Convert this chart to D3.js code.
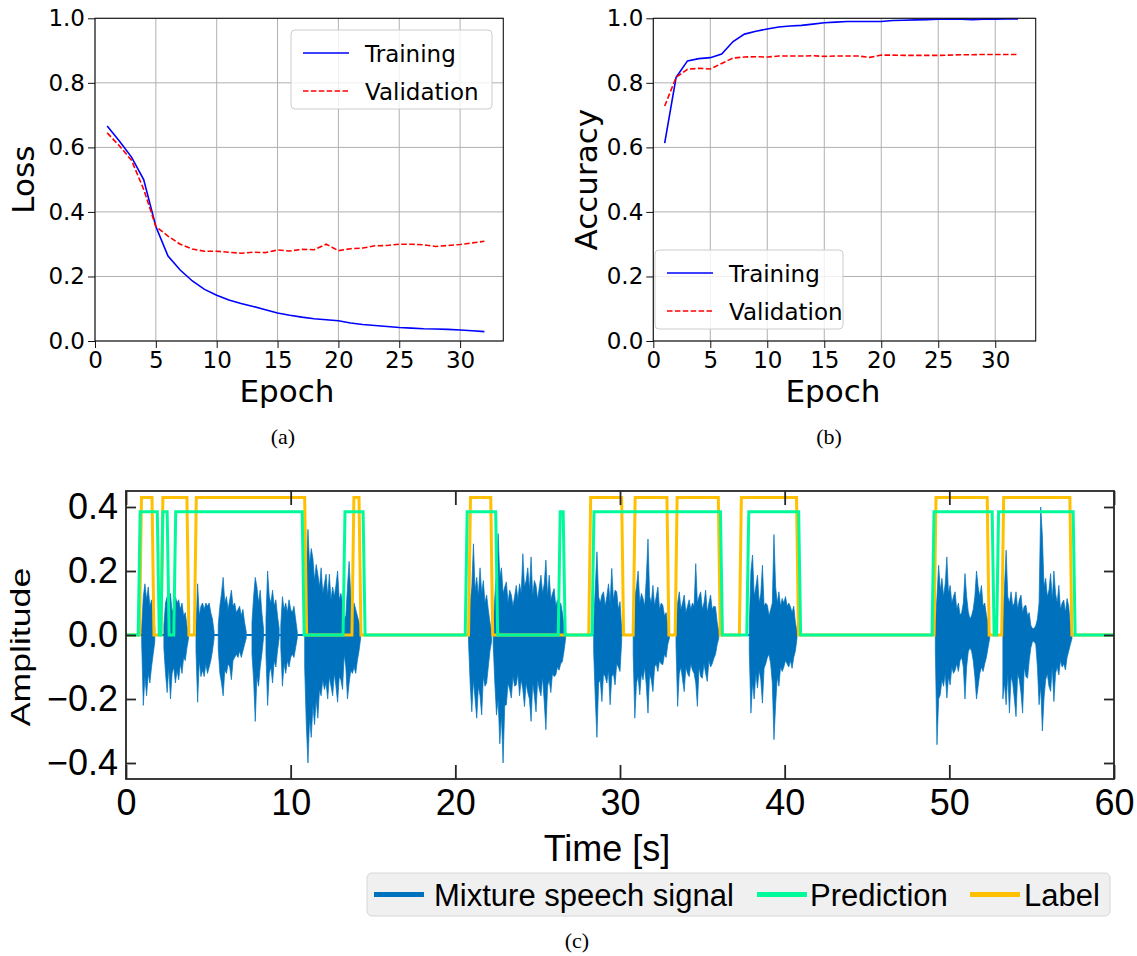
<!DOCTYPE html>
<html><head><meta charset="utf-8">
<script src="https://cdn.jsdelivr.net/npm/d3@7"></script>
<style>body{margin:0;background:#fff} svg{display:block}</style>
</head><body>
<svg id="c" width="1137" height="956"></svg>
<script>
// ---------- data ----------
const epochs = d3.range(1, 33);
const lossTrain = [0.666,0.620,0.570,0.500,0.355,0.263,0.220,0.186,0.160,0.142,0.127,0.116,0.107,0.097,0.087,0.080,0.074,0.069,0.066,0.063,0.056,0.051,0.048,0.045,0.042,0.040,0.038,0.037,0.036,0.034,0.032,0.029];
const lossVal   = [0.645,0.605,0.560,0.470,0.355,0.325,0.300,0.285,0.278,0.278,0.275,0.272,0.275,0.274,0.282,0.279,0.284,0.283,0.300,0.280,0.286,0.288,0.295,0.296,0.300,0.300,0.298,0.293,0.296,0.299,0.304,0.309];
const accTrain  = [0.613,0.817,0.868,0.875,0.878,0.889,0.928,0.951,0.960,0.967,0.973,0.976,0.978,0.982,0.986,0.988,0.990,0.990,0.990,0.990,0.993,0.994,0.995,0.996,0.997,0.997,0.997,0.996,0.997,0.997,0.998,0.998];
const accVal    = [0.728,0.817,0.842,0.845,0.843,0.860,0.877,0.880,0.881,0.880,0.883,0.883,0.883,0.884,0.882,0.883,0.883,0.883,0.879,0.886,0.886,0.885,0.885,0.885,0.885,0.886,0.887,0.887,0.888,0.888,0.888,0.888];
const epochTicks = [0,5,10,15,20,25,30];
const unitTicks = [0,0.2,0.4,0.6,0.8,1.0];
const seriesNames = ["Training","Validation"];

const timeTicks = [0,10,20,30,40,50,60];
const ampTicks = [-0.4,-0.2,0,0.2,0.4];
const legendNames = ["Mixture speech signal","Prediction","Label"];
// speech activity intervals [on, off] in seconds
const labelOn = [[0.82,1.58],[2.12,3.7],[4.15,10.85],[13.72,14.15],[20.8,22.15],[28.1,30.1],[30.8,32.85],[33.35,35.97],[37.25,40.72],[49.07,52.3],[53.18,57.32]];
const predOn  = [[0.74,1.9],[2.12,2.5],[2.9,10.7],[13.18,14.4],[20.6,22.45],[26.25,26.55],[28.3,36.1],[37.7,40.85],[48.95,52.6],[52.87,57.52]];
const labelLevel = 0.43, predLevel = 0.385;
// signal envelope: burst start time (s), 0.1 s per value
const burstStart = [0.95,2.3,4.25,5.6,7.65,8.5,9.4,10.85,20.8,22.3,28.4,30.8,33.4,37.85,49.15,53.25];
const burstHi = [
 [0.02,0.12,0.16,0.11,0.15,0.09,0.11,0.07,0.02],
 [0.03,0.1,0.12,0.08,0.13,0.07,0.09,0.12,0.1,0.11,0.08,0.1,0.06,0.07,0.03,0.01],
 [0.03,0.16,0.06,0.09,0.1,0.08,0.1,0.09,0.1,0.07,0.05,0.01],
 [0.03,0.09,0.13,0.18,0.1,0.12,0.08,0.11,0.14,0.09,0.1,0.07,0.08,0.09,0.06,0.08,0.04,0.01],
 [0.04,0.12,0.18,0.15,0.1,0.14,0.07,0.02],
 [0.05,0.2,0.12,0.1,0.14,0.09,0.11,0.06,0.02],
 [0.03,0.12,0.08,0.1,0.07,0.11,0.08,0.07,0.09,0.05,0.01],
 [0.05,0.2,0.33,0.22,0.27,0.24,0.17,0.22,0.19,0.15,0.21,0.13,0.16,0.19,0.12,0.19,0.11,0.15,0.12,0.155,0.2,0.11,0.13,0.1,0.05,0.06,0.15,0.23,0.12,0.09,0.1,0.08,0.06,0.04,0.01],
 [0.02,0.1,0.15,0.285,0.14,0.18,0.12,0.21,0.13,0.17,0.1,0.125,0.08,0.04,0.01],
 [0.02,0.12,0.2,0.317,0.18,0.21,0.13,0.15,0.166,0.1,0.14,0.125,0.09,0.12,0.155,0.11,0.16,0.13,0.254,0.15,0.17,0.21,0.14,0.244,0.12,0.17,0.155,0.11,0.15,0.187,0.13,0.16,0.234,0.12,0.187,0.11,0.13,0.145,0.09,0.11,0.08,0.1,0.07,0.03,0.01],
 [0.03,0.15,0.26,0.12,0.1,0.125,0.135,0.09,0.12,0.16,0.1,0.208,0.11,0.14,0.135,0.08,0.104,0.02],
 [0.03,0.12,0.15,0.2,0.1,0.13,0.114,0.09,0.18,0.3,0.12,0.1,0.155,0.09,0.12,0.15,0.08,0.1,0.093,0.06,0.07,0.03,0.01],
 [0.02,0.1,0.135,0.08,0.1,0.125,0.07,0.09,0.11,0.08,0.1,0.09,0.223,0.1,0.12,0.135,0.08,0.1,0.14,0.07,0.1,0.125,0.08,0.09,0.088,0.04,0.01],
 [0.03,0.2,0.25,0.12,0.15,0.187,0.1,0.13,0.218,0.09,0.1,0.093,0.06,0.08,0.1,0.314,0.15,0.1,0.135,0.09,0.114,0.1,0.12,0.09,0.1,0.088,0.07,0.09,0.04,0.01],
 [0.03,0.12,0.218,0.14,0.177,0.12,0.16,0.244,0.13,0.155,0.1,0.12,0.135,0.08,0.1,0.062,0.07,0.1,0.192,0.12,0.073,0.05,0.06,0.08,0.12,0.2,0.15,0.12,0.155,0.09,0.1,0.062,0.04,0.01],
 [0.04,0.15,0.265,0.12,0.1,0.135,0.09,0.1,0.135,0.08,0.11,0.125,0.07,0.09,0.093,0.06,0.07,0.03,0.02,0.02,0.03,0.05,0.1,0.4,0.31,0.15,0.177,0.12,0.14,0.192,0.11,0.2,0.13,0.1,0.155,0.08,0.1,0.109,0.07,0.114,0.09,0.03,0.01]
];
const burstLo = [
 [-0.02,-0.22,-0.13,-0.19,-0.12,-0.15,-0.1,-0.06,-0.02],
 [-0.04,-0.12,-0.18,-0.1,-0.2,-0.12,-0.1,-0.15,-0.11,-0.14,-0.09,-0.12,-0.07,-0.08,-0.04,-0.01],
 [-0.05,-0.21,-0.08,-0.13,-0.11,-0.13,-0.09,-0.12,-0.1,-0.08,-0.05,-0.01],
 [-0.04,-0.12,-0.15,-0.19,-0.11,-0.12,-0.09,-0.1,-0.14,-0.08,-0.07,-0.06,-0.07,-0.05,-0.07,-0.05,-0.03,-0.01],
 [-0.06,-0.14,-0.27,-0.13,-0.16,-0.1,-0.06,-0.01],
 [-0.06,-0.22,-0.12,-0.1,-0.15,-0.08,-0.1,-0.05,-0.01],
 [-0.04,-0.16,-0.09,-0.12,-0.08,-0.1,-0.07,-0.06,-0.07,-0.04,-0.01],
 [-0.1,-0.28,-0.4,-0.26,-0.32,-0.22,-0.28,-0.2,-0.26,-0.17,-0.19,-0.14,-0.17,-0.15,-0.2,-0.13,-0.16,-0.19,-0.12,-0.16,-0.21,-0.13,-0.14,-0.17,-0.06,-0.1,-0.2,-0.15,-0.11,-0.12,-0.1,-0.12,-0.08,-0.05,-0.01],
 [-0.02,-0.15,-0.24,-0.14,-0.2,-0.26,-0.16,-0.19,-0.25,-0.13,-0.16,-0.15,-0.1,-0.05,-0.02],
 [-0.03,-0.15,-0.25,-0.2,-0.34,-0.25,-0.4,-0.22,-0.218,-0.15,-0.17,-0.197,-0.13,-0.16,-0.156,-0.12,-0.19,-0.14,-0.17,-0.224,-0.15,-0.18,-0.2,-0.27,-0.15,-0.19,-0.24,-0.14,-0.17,-0.19,-0.13,-0.21,-0.296,-0.16,-0.14,-0.18,-0.12,-0.13,-0.125,-0.1,-0.11,-0.09,-0.083,-0.05,-0.01],
 [-0.05,-0.2,-0.32,-0.15,-0.14,-0.208,-0.12,-0.13,-0.15,-0.11,-0.218,-0.13,-0.12,-0.156,-0.09,-0.1,-0.114,-0.02],
 [-0.06,-0.26,-0.15,-0.13,-0.187,-0.12,-0.14,-0.1,-0.16,-0.244,-0.12,-0.14,-0.177,-0.1,-0.09,-0.114,-0.08,-0.09,-0.093,-0.06,-0.07,-0.03,-0.01],
 [-0.03,-0.223,-0.12,-0.1,-0.14,-0.177,-0.1,-0.12,-0.13,-0.09,-0.11,-0.12,-0.15,-0.223,-0.1,-0.13,-0.135,-0.09,-0.12,-0.145,-0.08,-0.1,-0.09,-0.073,-0.06,-0.03,-0.01],
 [-0.05,-0.244,-0.15,-0.2,-0.12,-0.166,-0.11,-0.14,-0.213,-0.104,-0.09,-0.07,-0.06,-0.09,-0.15,-0.327,-0.218,-0.13,-0.16,-0.1,-0.114,-0.1,-0.08,-0.09,-0.1,-0.08,-0.104,-0.07,-0.05,-0.01],
 [-0.05,-0.343,-0.2,-0.187,-0.14,-0.16,-0.12,-0.197,-0.13,-0.156,-0.1,-0.12,-0.11,-0.09,-0.114,-0.08,-0.07,-0.1,-0.2,-0.1,-0.052,-0.04,-0.05,-0.08,-0.13,-0.2,-0.16,-0.12,-0.1,-0.114,-0.09,-0.07,-0.04,-0.01],
 [-0.2,-0.15,-0.218,-0.12,-0.244,-0.13,-0.15,-0.2,-0.255,-0.12,-0.14,-0.18,-0.244,-0.1,-0.13,-0.135,-0.08,-0.04,-0.02,-0.02,-0.03,-0.1,-0.218,-0.16,-0.3,-0.197,-0.14,-0.12,-0.16,-0.176,-0.1,-0.208,-0.12,-0.1,-0.125,-0.08,-0.1,-0.09,-0.109,-0.07,-0.05,-0.03,-0.01]
];

// ---------- drawing ----------
const svg = d3.select("#c");
const FT = "'DejaVu Sans', sans-serif";
const FB = "'Liberation Sans', Arial, sans-serif";
const FS = "'Liberation Serif', 'DejaVu Serif', serif";
const C_TRAIN = "#0000ff", C_VAL = "#ff0000";

function drawTop(cfg) {
  const {L, R, T, B, train, val, ylabel, ylabelX, leg, xlabelX, caption} = cfg;
  const x = d3.scaleLinear().domain([0, 33.55]).range([L, R]);
  const y = d3.scaleLinear().domain([0, 1]).range([B, T]);
  const g = svg.append("g");
  g.append("g").selectAll("line").data(epochTicks).join("line")
    .attr("x1", d => x(d)).attr("x2", d => x(d)).attr("y1", T).attr("y2", B)
    .attr("stroke", "#b0b0b0").attr("stroke-width", 1);
  g.append("g").selectAll("line").data(unitTicks).join("line")
    .attr("x1", L).attr("x2", R).attr("y1", d => y(d)).attr("y2", d => y(d))
    .attr("stroke", "#b0b0b0").attr("stroke-width", 1);
  const line = d3.line().x((d, i) => x(epochs[i])).y(d => y(d));
  g.append("path").datum(train).attr("d", line).attr("fill", "none")
    .attr("stroke", C_TRAIN).attr("stroke-width", 1.6);
  g.append("path").datum(val).attr("d", line).attr("fill", "none")
    .attr("stroke", C_VAL).attr("stroke-width", 1.6).attr("stroke-dasharray", "5.5,2.4");
  g.append("rect").attr("x", L).attr("y", T).attr("width", R - L).attr("height", B - T)
    .attr("fill", "none").attr("stroke", "#111").attr("stroke-width", 1.1);
  const ax = g.append("g").attr("transform", `translate(0,${B})`)
    .call(d3.axisBottom(x).tickValues(epochTicks).tickSize(7).tickPadding(4).tickFormat(d3.format("d")));
  ax.select(".domain").remove();
  ax.attr("font-size", 23).attr("font-family", FT);
  ax.selectAll("line").attr("stroke", "#111");
  ax.selectAll("text").attr("fill", "#000");
  const ay = g.append("g").attr("transform", `translate(${L},0)`)
    .call(d3.axisLeft(y).tickValues(unitTicks).tickSize(7).tickPadding(3).tickFormat(d3.format(".1f")));
  ay.select(".domain").remove();
  ay.attr("font-size", 23).attr("font-family", FT);
  ay.selectAll("line").attr("stroke", "#111");
  ay.selectAll("text").attr("fill", "#000");
  g.append("text").attr("x", xlabelX).attr("y", 402).attr("text-anchor", "middle")
    .attr("font-family", FT).attr("font-size", 31).text("Epoch");
  g.append("text").attr("transform", `translate(${ylabelX},${(T + B) / 2}) rotate(-90)`)
    .attr("text-anchor", "middle").attr("font-family", FT).attr("font-size", 31).text(ylabel);
  g.append("text").attr("x", xlabelX - 4).attr("y", 444).attr("text-anchor", "middle")
    .attr("font-family", FS).attr("font-size", 22).text(caption);
  // legend
  const lg = g.append("g");
  lg.append("rect").attr("x", leg.x).attr("y", leg.y).attr("width", leg.w).attr("height", leg.h)
    .attr("rx", 4).attr("fill", "#fff").attr("fill-opacity", 0.8).attr("stroke", "#cccccc");
  seriesNames.forEach((name, i) => {
    const ly = leg.y + 23 + i * 38;
    lg.append("line").attr("x1", leg.x + 12).attr("x2", leg.x + 58).attr("y1", ly).attr("y2", ly)
      .attr("stroke", i ? C_VAL : C_TRAIN).attr("stroke-width", 1.6)
      .attr("stroke-dasharray", i ? "5.5,2.4" : null);
    lg.append("text").attr("x", leg.x + 74).attr("y", ly + 8.5)
      .attr("font-family", FT).attr("font-size", 23).text(name);
  });
}

drawTop({L: 95, R: 503.3, T: 18.3, B: 341, train: lossTrain, val: lossVal, ylabel: "Loss",
  ylabelX: 34, xlabelX: 287, caption: "(a)", leg: {x: 291, y: 30, w: 201, h: 79}});
drawTop({L: 653.3, R: 1035.7, T: 18.3, B: 341, train: accTrain, val: accVal, ylabel: "Accuracy",
  ylabelX: 597, xlabelX: 833, caption: "(b)", leg: {x: 655, y: 250, w: 188, h: 79}});

// ---------- bottom chart ----------
const BL = 126, BR = 1114, BT = 491, BB = 779;
const xb = d3.scaleLinear().domain([0, 60]).range([BL, BR]);
const yb = d3.scaleLinear().domain([-0.45, 0.45]).range([BB, BT]);
const C_SIG = "#0072bd", C_PRED = "#00fa9a", C_LAB = "#ffc000";
const gb = svg.append("g");
gb.append("clipPath").attr("id", "clipb").append("rect")
  .attr("x", BL).attr("y", BT).attr("width", BR - BL).attr("height", BB - BT);
const plot = gb.append("g").attr("clip-path", "url(#clipb)");

plot.append("line").attr("x1", xb(0)).attr("x2", xb(60)).attr("y1", yb(0)).attr("y2", yb(0))
  .attr("stroke", C_SIG).attr("stroke-width", 2.2);
const area = d3.area().x(d => xb(d.t)).y0(d => yb(d.lo)).y1(d => yb(d.hi));
burstStart.forEach((t0, k) => {
  const pts = burstHi[k].map((h, i) => ({t: t0 + i * 0.1, hi: h, lo: burstLo[k][i]}));
  plot.append("path").datum(pts).attr("d", area).attr("fill", C_SIG)
    .attr("stroke", C_SIG).attr("stroke-width", 0.7).attr("stroke-linejoin", "miter");
});

function stepPoints(intervals, level, ramp) {
  const pts = [{t: 0, v: 0}];
  intervals.forEach(([s, e]) => {
    pts.push({t: s, v: 0}, {t: s + ramp, v: level}, {t: e, v: level}, {t: e + ramp, v: 0});
  });
  pts.push({t: 60, v: 0});
  return pts;
}
const stepLine = d3.line().x(d => xb(d.t)).y(d => yb(d.v));
plot.append("path").datum(stepPoints(labelOn, labelLevel, 0.12)).attr("d", stepLine)
  .attr("fill", "none").attr("stroke", C_LAB).attr("stroke-width", 3);
plot.append("path").datum(stepPoints(predOn, predLevel, 0.12)).attr("d", stepLine)
  .attr("fill", "none").attr("stroke", C_PRED).attr("stroke-width", 3);

gb.append("rect").attr("x", BL).attr("y", BT).attr("width", BR - BL).attr("height", BB - BT)
  .attr("fill", "none").attr("stroke", "#262626").attr("stroke-width", 1.8);

function styleAxis(a) {
  a.select(".domain").remove();
  a.attr("font-size", 36).attr("font-family", FB);
  a.selectAll("line").attr("stroke", "#262626").attr("stroke-width", 1.8);
  a.selectAll("text").attr("fill", "#000");
}
styleAxis(gb.append("g").attr("transform", `translate(0,${BB})`)
  .call(d3.axisBottom(xb).tickValues(timeTicks).tickSizeInner(-14).tickSizeOuter(0).tickPadding(10.5).tickFormat(d3.format("d"))));
styleAxis(gb.append("g").attr("transform", `translate(0,${BT})`)
  .call(d3.axisTop(xb).tickValues(timeTicks).tickSizeInner(-14).tickSizeOuter(0).tickFormat("")));
styleAxis(gb.append("g").attr("transform", `translate(${BL},0)`)
  .call(d3.axisLeft(yb).tickValues(ampTicks).tickSizeInner(-10).tickSizeOuter(0).tickPadding(8).tickFormat(d3.format(".1f"))));
styleAxis(gb.append("g").attr("transform", `translate(${BR},0)`)
  .call(d3.axisRight(yb).tickValues(ampTicks).tickSizeInner(-10).tickSizeOuter(0).tickFormat("")));

gb.append("text").attr("x", 607).attr("y", 861).attr("text-anchor", "middle")
  .attr("font-family", FB).attr("font-size", 36).text("Time [s]");
gb.append("text").attr("transform", "translate(30,647) rotate(-90) scale(1.32,1)")
  .attr("text-anchor", "middle").attr("font-family", FB).attr("font-size", 27).text("Amplitude");
gb.append("text").attr("x", 577).attr("y", 948).attr("text-anchor", "middle")
  .attr("font-family", FS).attr("font-size", 22).text("(c)");

// legend
const lgb = gb.append("g");
lgb.append("rect").attr("x", 367).attr("y", 873).attr("width", 743).attr("height", 43)
  .attr("rx", 5).attr("fill", "#f0f0f0").attr("stroke", "#d6d6d6").attr("stroke-width", 1);
const legCols = [C_SIG, C_PRED, C_LAB];
const legLineX = [374, 757, 970];
const legTextX = [434, 810, 1024];
legendNames.forEach((name, i) => {
  lgb.append("line").attr("x1", legLineX[i]).attr("x2", legLineX[i] + 50)
    .attr("y1", 894.5).attr("y2", 894.5).attr("stroke", legCols[i]).attr("stroke-width", 5);
  lgb.append("text").attr("x", legTextX[i]).attr("y", 905.5)
    .attr("font-family", FB).attr("font-size", 31).text(name);
});
</script>
</body></html>
